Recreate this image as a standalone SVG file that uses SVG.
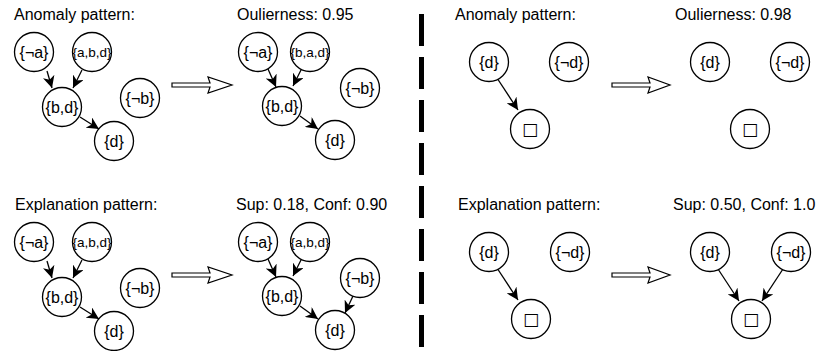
<svg xmlns="http://www.w3.org/2000/svg" width="819" height="351" viewBox="0 0 819 351">
  <style>
    .bg { fill: #ffffff; }
    .node circle { fill: #ffffff; stroke: #000000; stroke-width: 1.3; }
    .node text { font-family: "Liberation Sans", Arial, sans-serif; font-size: 16px; text-anchor: middle; fill: #000000; }
    .node text.small { font-size: 13.5px; }
    .node text.sym { font-family: "DejaVu Sans", sans-serif; font-size: 17px; }
    .title { font-family: "Liberation Sans", Arial, sans-serif; font-size: 16px; fill: #000000; }
    .edge { stroke: #000000; stroke-width: 1.3; fill: none; marker-end: url(#head); }
    .big-arrow { fill: #ffffff; stroke: #000000; stroke-width: 1.2; stroke-linejoin: miter; }
    .divider { stroke: #000000; stroke-width: 5; stroke-dasharray: 32 11; }
  </style>
  <defs>
    <!-- filled arrowhead with a notched back -->
    <marker id="head" markerUnits="userSpaceOnUse" markerWidth="13" markerHeight="12" refX="12" refY="6" orient="auto">
      <path d="M0,0 L12,6 L0,12 L3.5,6 z" fill="#000000"/>
    </marker>
  </defs>
  <rect class="bg" x="0" y="0" width="819" height="351"/>

  <!-- panel titles -->
  <g id="titles">
    <text class="title" x="14" y="20">Anomaly pattern:</text>
    <text class="title" x="237" y="20">Oulierness: 0.95</text>
    <text class="title" x="15" y="210">Explanation pattern:</text>
    <text class="title" x="236" y="210">Sup: 0.18, Conf: 0.90</text>
    <text class="title" x="455" y="20">Anomaly pattern:</text>
    <text class="title" x="675" y="20">Oulierness: 0.98</text>
    <text class="title" x="458" y="210">Explanation pattern:</text>
    <text class="title" x="673" y="210">Sup: 0.50, Conf: 1.0</text>
  </g>

  <!-- vertical dashed divider -->
  <line class="divider" x1="421.5" y1="14" x2="421.5" y2="348"/>

  <!-- hollow transition arrows -->
  <g id="transitions">
    <polygon class="big-arrow" points="172,83 210,83 208,77 232,85 208,93 210,87 172,87"/>
    <polygon class="big-arrow" points="172,273 210,273 208,267 232,275 208,283 210,277 172,277"/>
    <polygon class="big-arrow" points="612,83 650,83 648,77 670,85 648,93 650,87 612,87"/>
    <polygon class="big-arrow" points="612,273 650,273 648,267 670,275 648,283 650,277 612,277"/>
  </g>

  <!-- connectors -->
  <g id="connectors">
    <!-- top-left -->
    <path class="edge" d="M47,71 L52,88"/>
    <path class="edge" d="M82,70 L73,88"/>
    <path class="edge" d="M80,117 L99,129"/>
    <!-- top second -->
    <path class="edge" d="M268,69 L276,87"/>
    <path class="edge" d="M302,68 L293,86"/>
    <path class="edge" d="M300,116 L318,129"/>
    <!-- bottom-left -->
    <path class="edge" d="M47,261 L52,278"/>
    <path class="edge" d="M82,260 L73,278"/>
    <path class="edge" d="M80,307 L99,319"/>
    <!-- bottom second -->
    <path class="edge" d="M268,259 L276,277"/>
    <path class="edge" d="M302,258 L293,276"/>
    <path class="edge" d="M300,306 L318,319"/>
    <path class="edge" d="M353,296 L345,313"/>
    <!-- right side -->
    <path class="edge" d="M497,78 L518,110"/>
    <path class="edge" d="M497,268 L518,300"/>
    <path class="edge" d="M718,269 L739,301"/>
    <path class="edge" d="M783,269 L762,301"/>
  </g>

  <!-- top-left: anomaly pattern -->
  <g id="a1-na" class="node"><circle cx="34" cy="52" r="19.5"/><text x="34" y="57.5">{¬a}</text></g>
  <g id="a1-abd" class="node"><circle cx="92" cy="52" r="19.5"/><text class="small" x="92" y="57">{a,b,d}</text></g>
  <g id="a1-bd" class="node"><circle cx="62" cy="107" r="19.5"/><text x="62" y="112.5">{b,d}</text></g>
  <g id="a1-d" class="node"><circle cx="114" cy="141" r="19.5"/><text x="114" y="146.5">{d}</text></g>
  <g id="a1-nb" class="node"><circle cx="140" cy="98" r="19.5"/><text x="140" y="103.5">{¬b}</text></g>

  <!-- top second: outlierness -->
  <g id="a2-na" class="node"><circle cx="258" cy="52" r="19.5"/><text x="258" y="57.5">{¬a}</text></g>
  <g id="a2-bad" class="node"><circle cx="310" cy="52" r="19.5"/><text class="small" x="310" y="57">{b,a,d}</text></g>
  <g id="a2-bd" class="node"><circle cx="282" cy="106" r="19.5"/><text x="282" y="111.5">{b,d}</text></g>
  <g id="a2-d" class="node"><circle cx="335" cy="140" r="19.5"/><text x="335" y="145.5">{d}</text></g>
  <g id="a2-nb" class="node"><circle cx="360" cy="88" r="19.5"/><text x="360" y="93.5">{¬b}</text></g>

  <!-- bottom-left: explanation pattern -->
  <g id="e1-na" class="node"><circle cx="34" cy="242" r="19.5"/><text x="34" y="247.5">{¬a}</text></g>
  <g id="e1-abd" class="node"><circle cx="92" cy="242" r="19.5"/><text class="small" x="92" y="247">{a,b,d}</text></g>
  <g id="e1-bd" class="node"><circle cx="62" cy="297" r="19.5"/><text x="62" y="302.5">{b,d}</text></g>
  <g id="e1-d" class="node"><circle cx="114" cy="331" r="19.5"/><text x="114" y="336.5">{d}</text></g>
  <g id="e1-nb" class="node"><circle cx="140" cy="288" r="19.5"/><text x="140" y="293.5">{¬b}</text></g>

  <!-- bottom second: support / confidence -->
  <g id="e2-na" class="node"><circle cx="258" cy="242" r="19.5"/><text x="258" y="247.5">{¬a}</text></g>
  <g id="e2-abd" class="node"><circle cx="310" cy="242" r="19.5"/><text class="small" x="310" y="247">{a,b,d}</text></g>
  <g id="e2-bd" class="node"><circle cx="282" cy="296" r="19.5"/><text x="282" y="301.5">{b,d}</text></g>
  <g id="e2-d" class="node"><circle cx="335" cy="330" r="19.5"/><text x="335" y="335.5">{d}</text></g>
  <g id="e2-nb" class="node"><circle cx="360" cy="278" r="19.5"/><text x="360" y="283.5">{¬b}</text></g>

  <!-- top-right: anomaly pattern -->
  <g id="a3-d" class="node"><circle cx="489" cy="62" r="19.5"/><text x="489" y="67.5">{d}</text></g>
  <g id="a3-nd" class="node"><circle cx="569" cy="62" r="19.5"/><text x="569" y="67.5">{¬d}</text></g>
  <g id="a3-box" class="node"><circle cx="530" cy="129" r="19.5"/><text class="sym" x="530" y="135">□</text></g>

  <!-- top-right second: outlierness -->
  <g id="a4-d" class="node"><circle cx="710" cy="62" r="19.5"/><text x="710" y="67.5">{d}</text></g>
  <g id="a4-nd" class="node"><circle cx="790" cy="62" r="19.5"/><text x="790" y="67.5">{¬d}</text></g>
  <g id="a4-box" class="node"><circle cx="750" cy="129" r="19.5"/><text class="sym" x="750" y="135">□</text></g>

  <!-- bottom-right: explanation pattern -->
  <g id="e3-d" class="node"><circle cx="489" cy="252" r="19.5"/><text x="489" y="257.5">{d}</text></g>
  <g id="e3-nd" class="node"><circle cx="570" cy="252" r="19.5"/><text x="570" y="257.5">{¬d}</text></g>
  <g id="e3-box" class="node"><circle cx="531" cy="319" r="19.5"/><text class="sym" x="531" y="325">□</text></g>

  <!-- bottom-right second: support / confidence -->
  <g id="e4-d" class="node"><circle cx="710" cy="252" r="19.5"/><text x="710" y="257.5">{d}</text></g>
  <g id="e4-nd" class="node"><circle cx="791" cy="252" r="19.5"/><text x="791" y="257.5">{¬d}</text></g>
  <g id="e4-box" class="node"><circle cx="751" cy="319" r="19.5"/><text class="sym" x="751" y="325">□</text></g>
</svg>
